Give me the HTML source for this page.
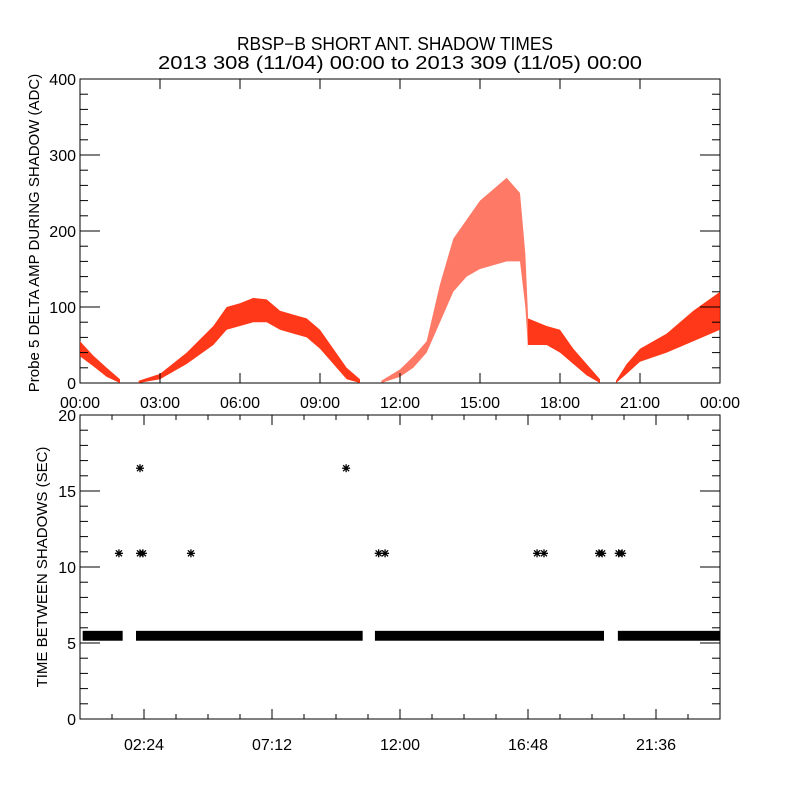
<!DOCTYPE html>
<html><head><meta charset="utf-8"><style>
html,body{margin:0;padding:0;background:#fff;}
svg{display:block;font-family:"Liberation Sans",sans-serif;}
</style></head><body>
<svg id="chart" width="800" height="800" viewBox="0 0 800 800">
<rect width="800" height="800" fill="#fff"/>
<text x="237" y="50" font-size="18" textLength="316" lengthAdjust="spacingAndGlyphs">RBSP−B SHORT ANT. SHADOW TIMES</text>
<text x="158" y="69" font-size="18" textLength="484" lengthAdjust="spacingAndGlyphs">2013 308 (11/04) 00:00 to 2013 309 (11/05) 00:00</text>
<g id="topPanel"></g><g id="botPanel"></g>
</svg>
<script>
// ---- top panel data: band segments [hour, low, high] ----
const seg1 = [[0,35,55],[0.5,22,36],[1,8,20],[1.5,0,5]];
const seg2 = [[2.2,0,3],[3,5,12],[4,25,40],[5,50,75],[5.5,70,100],[6,75,105],[6.5,80,112],[7,80,110],[7.5,70,95],[8,65,90],[8.5,60,85],[9,45,70],[9.5,25,45],[10,5,20],[10.5,0,5]];
const seg3 = [[11.3,0,3],[12,8,18],[12.5,20,35],[13,40,55],[13.5,80,130],[14,120,190],[14.5,140,215],[15,150,240],[15.5,155,255],[16,160,270],[16.5,160,250],[16.7,100,170],[16.8,45,90]];
const seg4 = [[16.8,50,85],[17.5,50,75],[18,40,70],[18.5,25,45],[19,10,25],[19.5,0,5]];
const seg5 = [[20.1,0,3],[20.5,12,25],[21,28,45],[22,40,65],[23,55,95],[24,70,120]];
const topSegments = [seg1,seg2,seg3,seg4,seg5];
const topYTicks = [0,100,200,300,400];
const topXTickHours = [0,3,6,9,12,15,18,21,24];
const topXTickLabels = ["00:00","03:00","06:00","09:00","12:00","15:00","18:00","21:00","00:00"];
// ---- bottom panel data ----
const bandStarts = [0.1,2.1,11.06,20.17];
const bandEnds = [1.6,10.6,19.65,24];
const bandLow = 5.15, bandHigh = 5.8;
const outlierHours = [1.46,2.25,2.36,4.16,11.2,11.44,17.14,17.4,19.46,19.58,20.2,20.33,2.25,9.98];
const outlierValues = [10.9,10.9,10.9,10.9,10.9,10.9,10.9,10.9,10.9,10.9,10.9,10.9,16.5,16.5];
const botYTicks = [0,5,10,15,20];
const botXTickHours = [2.4,7.2,12,16.8,21.6];
const botXTickLabels = ["02:24","07:12","12:00","16:48","21:36"];

const NS="http://www.w3.org/2000/svg";
function mk(p,t,a){const e=document.createElementNS(NS,t);for(const k in a)e.setAttribute(k,a[k]);p.appendChild(e);return e;}
const X0=80,X1=720;
const xs=h=>X0+h*(X1-X0)/24;
const yTop=v=>383-v*0.76;
const yBot=v=>719-v*15.2;
const gTop=document.getElementById('topPanel'), gBot=document.getElementById('botPanel');

let f=mk(gTop,'rect',{x:80,y:79,width:640,height:304,fill:'none',stroke:'#000','stroke-width':1});


topSegments.forEach((s,i)=>{
  const pts=s.map(d=>xs(d[0])+','+yTop(d[2])).concat(s.slice().reverse().map(d=>xs(d[0])+','+yTop(d[1])));
  const p=mk(gTop,'polygon',{points:pts.join(' '),fill:'#ff2200','fill-opacity':i==2?0.6:0.9});
  
  
});
topYTicks.forEach(v=>{
  mk(gTop,'line',{x1:80,x2:100,y1:yTop(v),y2:yTop(v),stroke:'#000'});
  mk(gTop,'line',{x1:700,x2:720,y1:yTop(v),y2:yTop(v),stroke:'#000'});
  const t=mk(gTop,'text',{x:76,y:yTop(v)+6,'font-size':16,'text-anchor':'end'});t.textContent=v;
  
  
});
for(let v=0;v<=400;v+=20){if(v%100){mk(gTop,'line',{x1:80,x2:88,y1:yTop(v),y2:yTop(v),stroke:'#000'});mk(gTop,'line',{x1:712,x2:720,y1:yTop(v),y2:yTop(v),stroke:'#000'});}}
topXTickHours.forEach((h,i)=>{
  mk(gTop,'line',{x1:xs(h),x2:xs(h),y1:383,y2:373,stroke:'#000'});
  mk(gTop,'line',{x1:xs(h),x2:xs(h),y1:79,y2:89,stroke:'#000'});
  const t=mk(gTop,'text',{x:xs(h),y:408,'font-size':16,'text-anchor':'middle'});t.textContent=topXTickLabels[i];
  
  
});
let yt=mk(gTop,'text',{x:0,y:0,'font-size':15,'text-anchor':'middle',transform:'translate(39,233) rotate(-90)'});
yt.textContent='Probe 5 DELTA AMP DURING SHADOW (ADC)';



f=mk(gBot,'rect',{x:80,y:415,width:640,height:304,fill:'none',stroke:'#000'});


bandStarts.forEach((s,i)=>{
  const r=mk(gBot,'rect',{x:xs(s),y:yBot(bandHigh),width:xs(bandEnds[i])-xs(s),height:yBot(bandLow)-yBot(bandHigh),fill:'#000'});
  
  
});
outlierHours.forEach((h,i)=>{
  const cx=xs(h), cy=yBot(outlierValues[i]);
  const g=mk(gBot,'g',{stroke:'#000','stroke-width':1.3});
  
  
  mk(g,'line',{x1:cx-4,x2:cx+4,y1:cy,y2:cy});
  mk(g,'line',{x1:cx,x2:cx,y1:cy-4,y2:cy+4});
  mk(g,'line',{x1:cx-3,x2:cx+3,y1:cy-3,y2:cy+3});
  mk(g,'line',{x1:cx-3,x2:cx+3,y1:cy+3,y2:cy-3});
});
botYTicks.forEach(v=>{
  mk(gBot,'line',{x1:80,x2:100,y1:yBot(v),y2:yBot(v),stroke:'#000'});
  mk(gBot,'line',{x1:700,x2:720,y1:yBot(v),y2:yBot(v),stroke:'#000'});
  const t=mk(gBot,'text',{x:76,y:yBot(v)+6,'font-size':16,'text-anchor':'end'});t.textContent=v;
  
  
});
for(let v=1;v<20;v++){if(v%5){mk(gBot,'line',{x1:80,x2:88,y1:yBot(v),y2:yBot(v),stroke:'#000'});mk(gBot,'line',{x1:712,x2:720,y1:yBot(v),y2:yBot(v),stroke:'#000'});}}
for(let h=1.2;h<24;h+=1.2){mk(gBot,'line',{x1:xs(h),x2:xs(h),y1:719,y2:714,stroke:'#000'});mk(gBot,'line',{x1:xs(h),x2:xs(h),y1:415,y2:420,stroke:'#000'});}
botXTickHours.forEach((h,i)=>{
  mk(gBot,'line',{x1:xs(h),x2:xs(h),y1:719,y2:709,stroke:'#000'});
  mk(gBot,'line',{x1:xs(h),x2:xs(h),y1:415,y2:425,stroke:'#000'});
  const t=mk(gBot,'text',{x:xs(h),y:750,'font-size':16,'text-anchor':'middle'});t.textContent=botXTickLabels[i];
  
  
});
yt=mk(gBot,'text',{x:0,y:0,'font-size':15,'text-anchor':'middle',transform:'translate(47,567) rotate(-90)'});
yt.textContent='TIME BETWEEN SHADOWS (SEC)';


</script>
</body></html>
